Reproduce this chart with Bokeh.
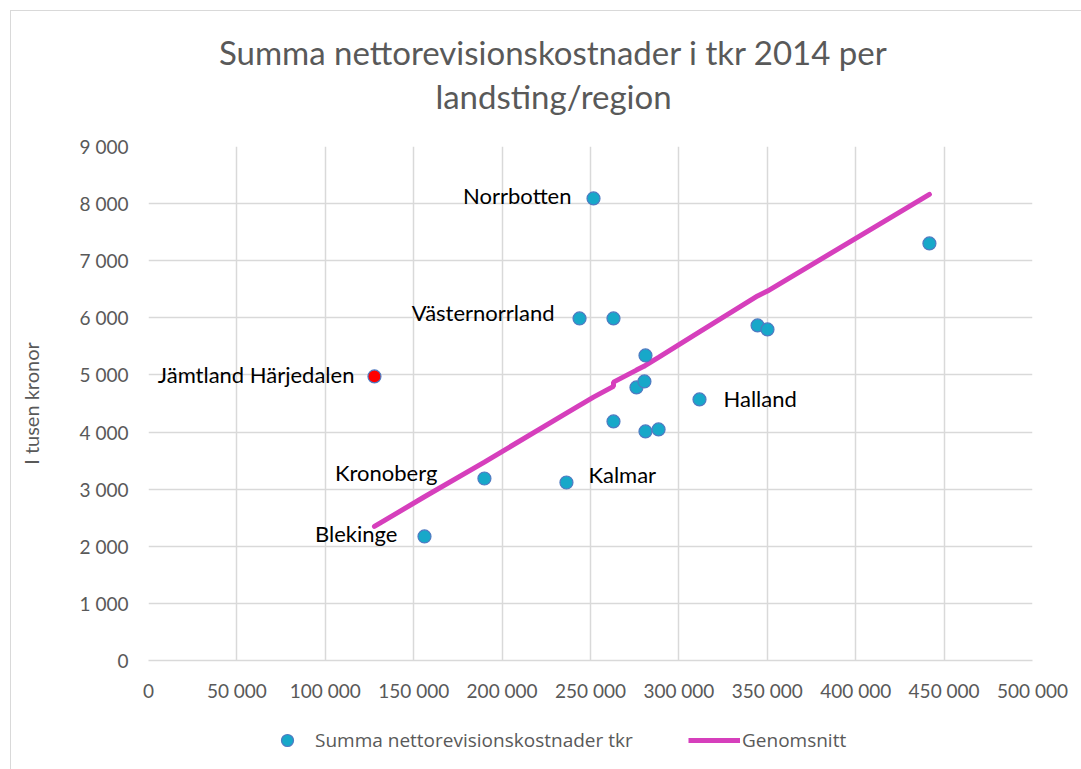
from bokeh.plotting import figure
from bokeh.layouts import column
from bokeh.models import (ColumnDataSource, FixedTicker, CustomJSTickFormatter, Legend,
                          LegendItem, Range1d)
from bokeh.core.properties import value
from bokeh.embed import file_html
from bokeh.resources import INLINE

# ---- data ----
cost_x = [127800, 156100, 190000, 236400, 243800, 251700, 263000, 263000,
          276000, 280500, 281100, 281100, 288500, 311650, 344500, 350100, 441700]
cost_y = [4974, 2172, 3187, 3117, 5989, 8091, 4186, 5990,
          4781, 4886, 4011, 5341, 4046, 4571, 5867, 5797, 7303]
avg_y = [2347, 2867, 3475, 4330, 4466, 4611, 4800, 4874,
         5085, 5156, 5160, 5166, 5308, 5753, 6384, 6468, 8161]
names = ["Jämtland Härjedalen", "Blekinge", "Kronoberg", "Kalmar", "Västernorrland",
         "Norrbotten", "", "", "", "", "", "", "", "Halland", "", "", ""]
highlight = "Jämtland Härjedalen"
x_ticks = [0, 50000, 100000, 150000, 200000, 250000, 300000, 350000, 400000, 450000, 500000]
y_ticks = [0, 1000, 2000, 3000, 4000, 5000, 6000, 7000, 8000, 9000]
title_lines = ["Summa nettorevisionskostnader i tkr 2014 per", "landsting/region"]
series_name = "Summa nettorevisionskostnader tkr"
avg_name = "Genomsnitt"
y_label = "I tusen kronor"

# label placement (style, screen pixels; +y is downward)
label_dx = {"Jämtland Härjedalen": -20, "Blekinge": -27, "Kronoberg": -47, "Kalmar": 22,
            "Västernorrland": -25, "Norrbotten": -22, "Halland": 24}
label_dy = {"Jämtland Härjedalen": -2, "Blekinge": -3, "Kronoberg": -6, "Kalmar": -8,
            "Västernorrland": -6, "Norrbotten": -3, "Halland": -1}

FONT = "Lato"
LEGFONT = "Open Sans"
GREY = "#595959"
TEAL = "#17a8c9"
EDGE = "#4f7ac2"
MAGENTA = "#d63fbc"
W = 1070
HT, H1, H2 = 110, 590, 58
FRAME_W = 884

# ---- title strip (frame aligned with the chart's frame) ----
t = figure(width=W, height=HT, output_backend="svg", toolbar_location=None,
           x_range=Range1d(0, FRAME_W), y_range=Range1d(0, HT),
           min_border_left=0, min_border_right=0, min_border_top=0, min_border_bottom=0)
t.axis.visible = False
t.grid.visible = False
t.outline_line_color = None
t.text(x=[405, 405], y=[70, 26], text=title_lines, text_align="center",
       text_baseline="middle", text_font=value(FONT), text_font_size="33px",
       text_color=GREY)

# ---- main chart ----
p = figure(width=W, height=H1, output_backend="svg", toolbar_location=None,
           x_range=Range1d(0, 500000), y_range=Range1d(0, 9000),
           min_border_left=137, min_border_right=49, min_border_top=25, min_border_bottom=51)
p.outline_line_color = None

fill = ["#ff0000" if n == highlight else TEAL for n in names]
src = ColumnDataSource(dict(x=cost_x, y=cost_y, avg=avg_y, name=names, fill=fill))

ln = p.line("x", "avg", source=src, line_color=MAGENTA, line_width=5, line_cap="round")
sc = p.scatter("x", "y", source=src, size=13, fill_color="fill", line_color=EDGE,
               line_width=1.2)

lab_x, lab_y, lab_t, lab_dx, lab_dy, lab_al = [], [], [], [], [], []
for xv, yv, n in zip(cost_x, cost_y, names):
    if n:
        lab_x.append(xv); lab_y.append(yv); lab_t.append(n)
        lab_dx.append(label_dx[n]); lab_dy.append(label_dy[n])
        lab_al.append("left" if label_dx[n] > 0 else "right")
lsrc = ColumnDataSource(dict(x=lab_x, y=lab_y, t=lab_t, dx=lab_dx, dy=lab_dy, al=lab_al))
p.text("x", "y", text="t", source=lsrc, x_offset="dx", y_offset="dy", text_align="al",
       text_baseline="middle", text_font=value(FONT), text_font_size="22px",
       text_color="#000000")

fmt = CustomJSTickFormatter(code="return tick.toLocaleString('en-US').replace(/,/g, ' ');")
p.xaxis.ticker = FixedTicker(ticks=x_ticks)
p.yaxis.ticker = FixedTicker(ticks=y_ticks)
p.xaxis.formatter = fmt
p.yaxis.formatter = fmt
for ax in (p.xaxis[0], p.yaxis[0]):
    ax.major_tick_line_color = None
    ax.minor_tick_line_color = None
    ax.major_label_text_font = FONT
    ax.major_label_text_font_size = "19px"
    ax.major_label_text_color = GREY
p.xaxis.axis_line_color = "#d9d9d9"
p.xaxis.axis_line_width = 1.5
p.yaxis.axis_line_color = None
p.xaxis.major_label_standoff = 12
p.yaxis.major_label_standoff = 14
p.yaxis.axis_label = y_label
p.yaxis.axis_label_text_font = FONT
p.yaxis.axis_label_text_font_size = "20px"
p.yaxis.axis_label_text_font_style = "normal"
p.yaxis.axis_label_text_color = GREY
p.yaxis.axis_label_standoff = 34

p.xgrid.ticker = FixedTicker(ticks=x_ticks)
p.ygrid.ticker = FixedTicker(ticks=y_ticks)
p.grid.grid_line_color = "#d9d9d9"
p.grid.grid_line_width = 1.5

# ---- legend strip below the chart (frame aligned with the chart's frame) ----
q = figure(width=W, height=H2, output_backend="svg", toolbar_location=None,
           x_range=Range1d(0, 1), y_range=Range1d(0, 1),
           min_border_left=0, min_border_right=0, min_border_top=0, min_border_bottom=0)
q.axis.visible = False
q.grid.visible = False
q.outline_line_color = None
# proxy renderers (outside the visible range) so the legend can draw its keys
lsc = q.scatter(x=cost_x[:1], y=cost_y[:1], size=13, fill_color=TEAL, line_color=EDGE,
                line_width=1.2)
lln = q.line(x=cost_x[:2], y=avg_y[:2], line_color=MAGENTA, line_width=5)
common = dict(orientation="horizontal", border_line_color=None, background_fill_alpha=0,
              label_text_font=LEGFONT, label_text_font_size="19px", label_text_color=GREY,
              margin=0, padding=0, label_height=20)
leg1 = Legend(items=[LegendItem(label=series_name, renderers=[lsc])], location=(124, 14),
              glyph_width=30, glyph_height=30, label_standoff=13, **common)
leg2 = Legend(items=[LegendItem(label=avg_name, renderers=[lln])], location=(540, 14),
              glyph_width=52, glyph_height=30, label_standoff=2, **common)
q.add_layout(leg1)
q.add_layout(leg2)

layout = column(t, p, q, spacing=0,
                styles={"margin-left": "10px", "margin-top": "10px",
                        "border-left": "1px solid #d9d9d9", "border-top": "1px solid #d9d9d9"})

open("out.html", "w").write(file_html(layout, INLINE))
